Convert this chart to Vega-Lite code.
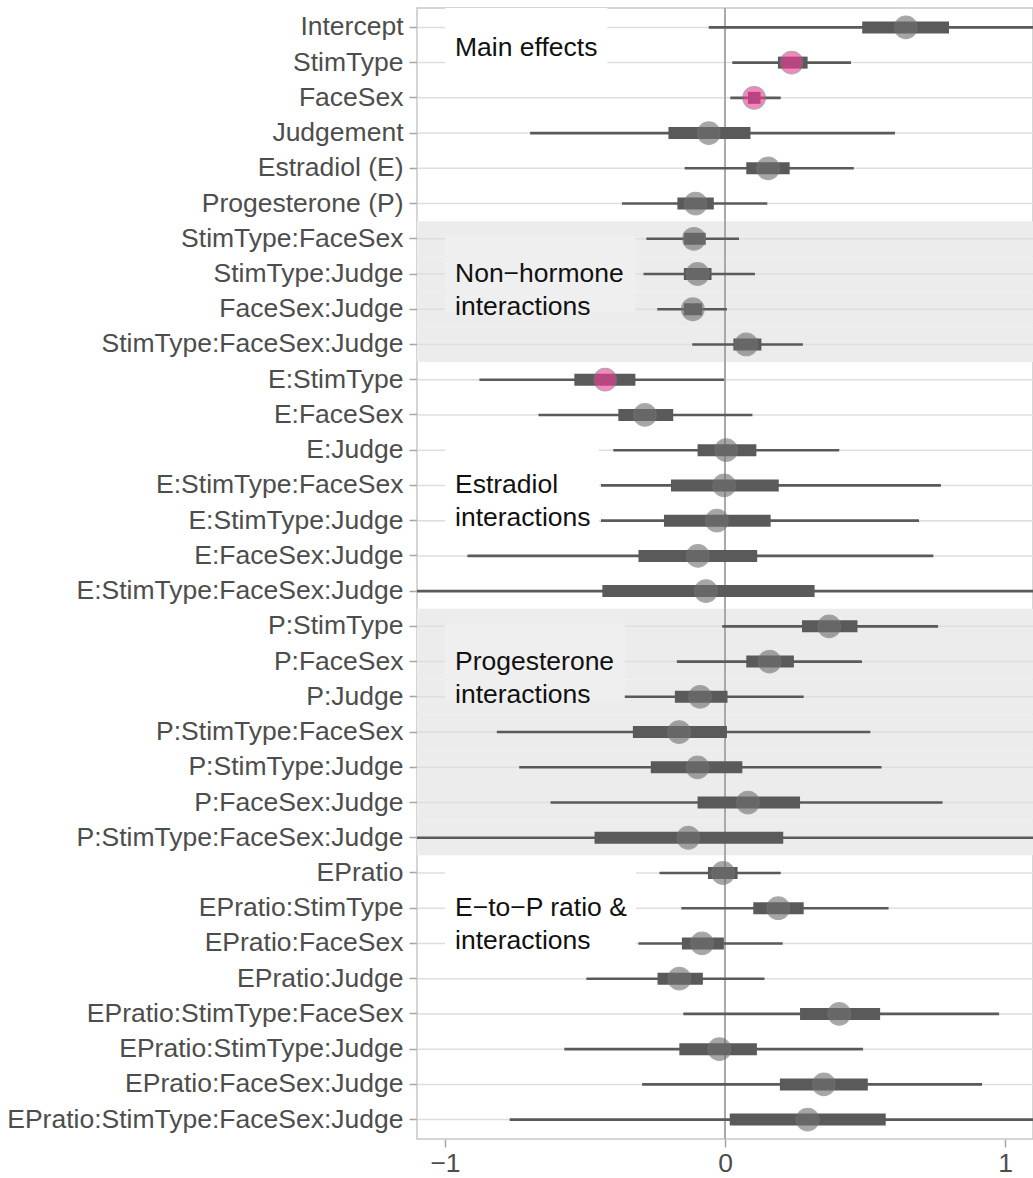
{
  "$schema": "https://vega.github.io/schema/vega-lite/v6.json",
  "width": 616,
  "height": 1131,
  "autosize": {"type": "none"},
  "padding": {"left": 417, "top": 8, "right": 0, "bottom": 39},
  "background": "white",
  "config": {"view": {"stroke": "#c8c8c8", "strokeWidth": 1.5}, "font": "Liberation Sans"},
  "data": {"values": [
    {"row": 0, "term": "Intercept", "lo95": -0.058, "lo50": 0.49, "est": 0.646, "hi50": 0.8, "hi95": 1.35, "sig": false, "shaded": false, "note": ["Main effects"], "noteEnd": -0.42},
    {"row": 1, "term": "StimType", "lo95": 0.026, "lo50": 0.189, "est": 0.238, "hi50": 0.295, "hi95": 0.45, "sig": true, "shaded": false},
    {"row": 2, "term": "FaceSex", "lo95": 0.019, "lo50": 0.082, "est": 0.104, "hi50": 0.127, "hi95": 0.199, "sig": true, "shaded": false},
    {"row": 3, "term": "Judgement", "lo95": -0.696, "lo50": -0.202, "est": -0.058, "hi50": 0.091, "hi95": 0.607, "sig": false, "shaded": false},
    {"row": 4, "term": "Estradiol (E)", "lo95": -0.144, "lo50": 0.076, "est": 0.154, "hi50": 0.231, "hi95": 0.46, "sig": false, "shaded": false},
    {"row": 5, "term": "Progesterone (P)", "lo95": -0.368, "lo50": -0.17, "est": -0.105, "hi50": -0.04, "hi95": 0.151, "sig": false, "shaded": false},
    {"row": 6, "term": "StimType:FaceSex", "lo95": -0.281, "lo50": -0.147, "est": -0.111, "hi50": -0.069, "hi95": 0.05, "sig": false, "shaded": true},
    {"row": 7, "term": "StimType:Judge", "lo95": -0.291, "lo50": -0.147, "est": -0.098, "hi50": -0.048, "hi95": 0.107, "sig": false, "shaded": true, "note": ["Non−hormone", "interactions"], "noteEnd": -0.32},
    {"row": 8, "term": "FaceSex:Judge", "lo95": -0.242, "lo50": -0.147, "est": -0.115, "hi50": -0.082, "hi95": 0.007, "sig": false, "shaded": true},
    {"row": 9, "term": "StimType:FaceSex:Judge", "lo95": -0.117, "lo50": 0.03, "est": 0.076, "hi50": 0.13, "hi95": 0.278, "sig": false, "shaded": true},
    {"row": 10, "term": "E:StimType", "lo95": -0.877, "lo50": -0.538, "est": -0.428, "hi50": -0.32, "hi95": -0.003, "sig": true, "shaded": false},
    {"row": 11, "term": "E:FaceSex", "lo95": -0.666, "lo50": -0.381, "est": -0.286, "hi50": -0.185, "hi95": 0.098, "sig": false, "shaded": false},
    {"row": 12, "term": "E:Judge", "lo95": -0.399, "lo50": -0.098, "est": 0.004, "hi50": 0.112, "hi95": 0.408, "sig": false, "shaded": false},
    {"row": 13, "term": "E:StimType:FaceSex", "lo95": -0.443, "lo50": -0.193, "est": -0.003, "hi50": 0.192, "hi95": 0.771, "sig": false, "shaded": false, "note": ["Estradiol", "interactions"], "noteEnd": -0.45},
    {"row": 14, "term": "E:StimType:Judge", "lo95": -0.443, "lo50": -0.218, "est": -0.029, "hi50": 0.163, "hi95": 0.693, "sig": false, "shaded": false},
    {"row": 15, "term": "E:FaceSex:Judge", "lo95": -0.92, "lo50": -0.309, "est": -0.097, "hi50": 0.115, "hi95": 0.744, "sig": false, "shaded": false},
    {"row": 16, "term": "E:StimType:FaceSex:Judge", "lo95": -1.2, "lo50": -0.438, "est": -0.068, "hi50": 0.32, "hi95": 1.15, "sig": false, "shaded": false},
    {"row": 17, "term": "P:StimType", "lo95": -0.01, "lo50": 0.275, "est": 0.372, "hi50": 0.473, "hi95": 0.761, "sig": false, "shaded": true},
    {"row": 18, "term": "P:FaceSex", "lo95": -0.172, "lo50": 0.076, "est": 0.159, "hi50": 0.246, "hi95": 0.489, "sig": false, "shaded": true, "note": ["Progesterone", "interactions"], "noteEnd": -0.357},
    {"row": 19, "term": "P:Judge", "lo95": -0.358, "lo50": -0.179, "est": -0.089, "hi50": 0.009, "hi95": 0.281, "sig": false, "shaded": true},
    {"row": 20, "term": "P:StimType:FaceSex", "lo95": -0.815, "lo50": -0.329, "est": -0.164, "hi50": 0.007, "hi95": 0.519, "sig": false, "shaded": true},
    {"row": 21, "term": "P:StimType:Judge", "lo95": -0.735, "lo50": -0.265, "est": -0.098, "hi50": 0.062, "hi95": 0.559, "sig": false, "shaded": true},
    {"row": 22, "term": "P:FaceSex:Judge", "lo95": -0.623, "lo50": -0.098, "est": 0.082, "hi50": 0.268, "hi95": 0.777, "sig": false, "shaded": true},
    {"row": 23, "term": "P:StimType:FaceSex:Judge", "lo95": -1.2, "lo50": -0.466, "est": -0.131, "hi50": 0.208, "hi95": 1.15, "sig": false, "shaded": true},
    {"row": 24, "term": "EPratio", "lo95": -0.234, "lo50": -0.061, "est": -0.007, "hi50": 0.045, "hi95": 0.199, "sig": false, "shaded": false},
    {"row": 25, "term": "EPratio:StimType", "lo95": -0.156, "lo50": 0.101, "est": 0.19, "hi50": 0.281, "hi95": 0.584, "sig": false, "shaded": false, "note": ["E−to−P ratio &", "interactions"], "noteEnd": -0.318},
    {"row": 26, "term": "EPratio:FaceSex", "lo95": -0.309, "lo50": -0.154, "est": -0.082, "hi50": -0.004, "hi95": 0.206, "sig": false, "shaded": false},
    {"row": 27, "term": "EPratio:Judge", "lo95": -0.495, "lo50": -0.241, "est": -0.163, "hi50": -0.079, "hi95": 0.141, "sig": false, "shaded": false},
    {"row": 28, "term": "EPratio:StimType:FaceSex", "lo95": -0.149, "lo50": 0.268, "est": 0.408, "hi50": 0.554, "hi95": 0.979, "sig": false, "shaded": false},
    {"row": 29, "term": "EPratio:StimType:Judge", "lo95": -0.574, "lo50": -0.163, "est": -0.02, "hi50": 0.114, "hi95": 0.493, "sig": false, "shaded": false},
    {"row": 30, "term": "EPratio:FaceSex:Judge", "lo95": -0.296, "lo50": 0.196, "est": 0.353, "hi50": 0.51, "hi95": 0.918, "sig": false, "shaded": false},
    {"row": 31, "term": "EPratio:StimType:FaceSex:Judge", "lo95": -0.769, "lo50": 0.017, "est": 0.295, "hi50": 0.574, "hi95": 1.3, "sig": false, "shaded": false}
  ]},
  "layer": [
    {
      "transform": [{"filter": "datum.shaded"}],
      "mark": {"type": "bar", "color": "#ececec", "orient": "horizontal"},
      "encoding": {
        "y": {"field": "term", "type": "nominal", "sort": {"field": "row", "op": "min"}, "title": null},
        "x": {"datum": -1.1, "type": "quantitative"},
        "x2": {"datum": 1.1}
      }
    },
    {
      "mark": {"type": "rule", "color": "#dedede", "strokeWidth": 1.5},
      "encoding": {
        "y": {"field": "term", "type": "nominal", "sort": {"field": "row", "op": "min"}, "title": null},
        "x": {"datum": -1.1, "type": "quantitative"},
        "x2": {"datum": 1.1}
      }
    },
    {
      "transform": [{"filter": "isValid(datum.note) && datum.row > 0"}],
      "mark": {"type": "bar", "size": 76, "orient": "horizontal"},
      "encoding": {
        "y": {"field": "term", "type": "nominal", "sort": {"field": "row", "op": "min"}, "title": null},
        "x": {"field": "noteEnd", "type": "quantitative", "title": null},
        "x2": {"datum": -1.0},
        "color": {"condition": {"test": "datum.shaded", "value": "#efefef"}, "value": "white"}
      }
    },
    {
      "transform": [{"filter": "datum.row == 0"}],
      "mark": {"type": "bar", "size": 78, "color": "white", "clip": true, "orient": "horizontal"},
      "encoding": {
        "y": {"field": "term", "type": "nominal", "sort": {"field": "row", "op": "min"}, "title": null},
        "x": {"field": "noteEnd", "type": "quantitative", "title": null},
        "x2": {"datum": -1.0}
      }
    },
    {
      "transform": [{"filter": "datum.row == 0"}],
      "mark": {"type": "rule", "color": "#a9a9a9", "strokeWidth": 2},
      "encoding": {
        "x": {"datum": 0, "type": "quantitative"}
      }
    },
    {
      "mark": {"type": "rule", "color": "#5a5a5a", "strokeWidth": 2.6, "clip": true},
      "encoding": {
        "y": {
          "field": "term", "type": "nominal", "sort": {"field": "row", "op": "min"},
          "scale": {"paddingInner": 0, "paddingOuter": 0.05},
          "axis": {"title": null, "labelFontSize": 26.5, "labelColor": "#4d4d4d", "labelFont": "Liberation Sans", "labelLimit": 600, "tickColor": "#a6a6a6", "tickSize": 8, "tickWidth": 1.5, "labelPadding": 6, "domain": false, "grid": false}
        },
        "x": {
          "field": "lo95", "type": "quantitative", "title": null,
          "scale": {"domain": [-1.1, 1.1], "nice": false, "zero": false},
          "axis": {"title": null, "values": [-1, 0, 1], "labelExpr": "datum.value < 0 ? '−' + format(-datum.value, 'd') : format(datum.value, 'd')", "labelFontSize": 26.5, "labelColor": "#4d4d4d", "labelFont": "Liberation Sans", "tickColor": "#a6a6a6", "tickSize": 8, "tickWidth": 1.5, "labelPadding": 3, "domain": false, "grid": false, "labelFlush": false}
        },
        "x2": {"field": "hi95"}
      }
    },
    {
      "mark": {"type": "bar", "color": "#5a5a5a", "size": 12, "clip": true, "orient": "horizontal"},
      "encoding": {
        "y": {"field": "term", "type": "nominal", "sort": {"field": "row", "op": "min"}, "title": null},
        "x": {"field": "lo50", "type": "quantitative", "title": null},
        "x2": {"field": "hi50"}
      }
    },
    {
      "mark": {"type": "point", "filled": true, "size": 510, "opacity": 0.62, "stroke": "#777777", "strokeWidth": 1.2},
      "encoding": {
        "y": {"field": "term", "type": "nominal", "sort": {"field": "row", "op": "min"}, "title": null},
        "x": {"field": "est", "type": "quantitative", "title": null},
        "fill": {"condition": {"test": "datum.sig", "value": "#f23d99"}, "value": "#707070"}
      }
    },
    {
      "transform": [{"filter": "isValid(datum.note) && datum.row > 0"}],
      "mark": {"type": "text", "align": "left", "baseline": "middle", "dx": 10, "fontSize": 26.5, "lineHeight": 33, "color": "#111111", "font": "Liberation Sans"},
      "encoding": {
        "y": {"field": "term", "type": "nominal", "sort": {"field": "row", "op": "min"}, "title": null},
        "x": {"datum": -1.0, "type": "quantitative"},
        "text": {"field": "note", "type": "nominal"}
      }
    },
    {
      "transform": [{"filter": "datum.row == 0"}],
      "mark": {"type": "text", "align": "left", "baseline": "middle", "dx": 10, "dy": 21, "fontSize": 26.5, "color": "#111111", "font": "Liberation Sans"},
      "encoding": {
        "y": {"field": "term", "type": "nominal", "sort": {"field": "row", "op": "min"}, "title": null},
        "x": {"datum": -1.0, "type": "quantitative"},
        "text": {"field": "note", "type": "nominal"}
      }
    }
  ]
}
